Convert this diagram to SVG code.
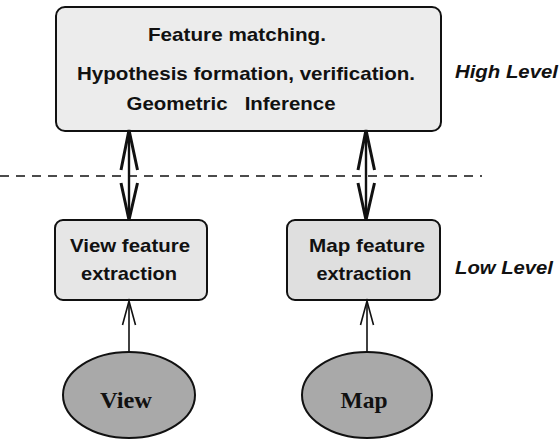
<svg xmlns="http://www.w3.org/2000/svg" width="559" height="440" viewBox="0 0 559 440">
  <style>
    .box { stroke: #111; stroke-width: 2; }
    .lbl { font-family: "Liberation Sans", Arial, sans-serif; font-weight: bold; font-size: 19px; fill: #111; text-anchor: middle; }
    .sub { font-family: "Liberation Sans", Arial, sans-serif; font-weight: bold; font-size: 19px; fill: #111; text-anchor: middle; }
    .lvl { font-family: "Liberation Sans", Arial, sans-serif; font-weight: bold; font-style: italic; font-size: 19px; fill: #111; }
    .src { font-family: "Liberation Serif", "Times New Roman", serif; font-weight: bold; font-size: 24px; fill: #111; text-anchor: middle; }
    .wire { stroke: #111; stroke-width: 2.4; fill: none; }
    .head { stroke: #111; stroke-width: 3; fill: none; stroke-linejoin: miter; }
    .thin { stroke: #111; stroke-width: 1.6; fill: none; }
  </style>

  <rect width="559" height="440" fill="#ffffff"/>

  <!-- level divider -->
  <line x1="0" y1="176" x2="482" y2="176" stroke="#111" stroke-width="1.5" stroke-dasharray="9,7"/>

  <g id="high-level">
    <rect class="box" x="56" y="7" width="385" height="124" rx="9" fill="#ececec"/>
    <text class="lbl" x="237" y="41" textLength="178" lengthAdjust="spacingAndGlyphs">Feature matching.</text>
    <text class="lbl" x="246" y="80" textLength="338" lengthAdjust="spacingAndGlyphs">Hypothesis formation, verification.</text>
    <text class="lbl" x="231" y="110" textLength="209" lengthAdjust="spacingAndGlyphs" xml:space="preserve">Geometric   Inference</text>
  </g>

  <g id="view-extraction">
    <rect class="box" x="55" y="220" width="152" height="80" rx="8" fill="#e6e6e6"/>
    <text class="sub" x="130" y="252" textLength="120" lengthAdjust="spacingAndGlyphs">View feature</text>
    <text class="sub" x="129" y="280" textLength="96" lengthAdjust="spacingAndGlyphs">extraction</text>
  </g>

  <g id="map-extraction">
    <rect class="box" x="287" y="220" width="153" height="80" rx="8" fill="#dfdfdf"/>
    <text class="sub" x="367" y="252" textLength="116" lengthAdjust="spacingAndGlyphs">Map feature</text>
    <text class="sub" x="364" y="280" textLength="95" lengthAdjust="spacingAndGlyphs">extraction</text>
  </g>

  <g id="view">
    <ellipse cx="129" cy="395" rx="66" ry="43" fill="#a9a9a9" stroke="#111" stroke-width="2"/>
    <text class="src" x="126" y="408" textLength="52" lengthAdjust="spacingAndGlyphs">View</text>
  </g>

  <g id="map">
    <ellipse cx="367" cy="395" rx="65" ry="43" fill="#a9a9a9" stroke="#111" stroke-width="2"/>
    <text class="src" x="364" y="408" textLength="47" lengthAdjust="spacingAndGlyphs">Map</text>
  </g>

  <g id="level-labels">
    <text class="lvl" x="455" y="78" textLength="103" lengthAdjust="spacingAndGlyphs">High Level</text>
    <text class="lvl" x="455" y="274" textLength="98" lengthAdjust="spacingAndGlyphs">Low Level</text>
  </g>

  <g id="connectors">
    <!-- view extraction <-> high level -->
    <line class="wire" x1="129" y1="133" x2="129" y2="218"/>
    <polyline class="head" points="121,170 129,130 137.5,170"/>
    <polyline class="head" points="121,183 129,220 137.5,183"/>
    <!-- map extraction <-> high level -->
    <line class="wire" x1="366" y1="133" x2="366" y2="218"/>
    <polyline class="head" points="358,170 366,130 374.5,170"/>
    <polyline class="head" points="358,183 366,220 374.5,183"/>
    <!-- view -> view extraction -->
    <line class="thin" x1="129" y1="352" x2="129" y2="302"/>
    <polyline class="thin" points="122.5,325 129,301 135.5,325"/>
    <!-- map -> map extraction -->
    <line class="thin" x1="367" y1="352" x2="367" y2="302"/>
    <polyline class="thin" points="360.5,325 367,301 373.5,325"/>
  </g>
</svg>
